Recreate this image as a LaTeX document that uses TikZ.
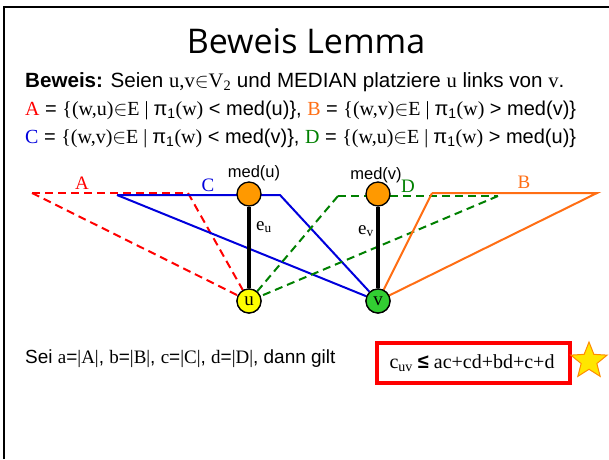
\documentclass[tikz,border=0pt]{standalone}
\usepackage{fontspec}
\setmainfont{Liberation Sans}
\newfontfamily\tms{Liberation Serif}
\newfontfamily\ttl{Open Sans}
\usetikzlibrary{shapes.geometric}
\definecolor{cred}{RGB}{255,0,0}
\definecolor{cblue}{RGB}{0,0,220}
\definecolor{cgreen}{RGB}{0,128,0}
\definecolor{corange}{RGB}{255,110,20}
\definecolor{nodeorange}{RGB}{255,153,0}
\definecolor{nodeyellow}{RGB}{255,255,0}
\definecolor{nodegreen}{RGB}{50,205,50}
\definecolor{staryellow}{RGB}{255,230,0}
\definecolor{starorange}{RGB}{255,140,0}
\tikzset{
  vert/.style={circle, draw=black, line width=1.3pt, minimum size=24pt, inner sep=0pt, font=\fontsize{19}{19}\selectfont\tms},
  txt/.style={anchor=base west, inner sep=0pt, font=\fontsize{20}{22}\selectfont},
  lbl/.style={inner sep=0pt, font=\fontsize{19}{19}\selectfont\tms},
  medlbl/.style={inner sep=0pt, font=\fontsize{16.5}{16.5}\selectfont},
  thickedge/.style={line width=3.5pt, black},
  cedge/.style={line width=2pt},
  dedge/.style={line width=2pt, dash pattern=on 8pt off 5pt},
}
\begin{document}
\begin{tikzpicture}[x=1pt,y=-1pt]
\useasboundingbox (0,0) rectangle (609,459);
% frame
\draw[line width=2.5pt] (4,459) -- (4,7) -- (609,7);
% title
\node[inner sep=0pt, font=\fontsize{34}{34}\selectfont\ttl] (title) at (306,41) {Beweis Lemma};
% text lines
\node[txt, font=\fontsize{20.6}{22}\selectfont] (l1) at (25,87) {\textbf{Beweis:} Seien {\tms u,v$\in$V\textsubscript{2}} und MEDIAN platziere {\tms u} links von {\tms v}.};
\node[txt] (l2) at (25,115) {{\tms\color{cred}A} = {\tms\{(w,u)$\in$E | }π\textsubscript{1}{\tms(w)} < med(u)\}, {\tms\color{corange}B} = {\tms\{(w,v)$\in$E | }π\textsubscript{1}{\tms(w)} > med(v)\}};
\node[txt] (l3) at (25,143) {{\tms\color{cblue}C} = {\tms\{(w,v)$\in$E | }π\textsubscript{1}{\tms(w)} < med(v)\}, {\tms\color{cgreen}D} = {\tms\{(w,u)$\in$E | }π\textsubscript{1}{\tms(w)} > med(u)\}};
% coordinates
\coordinate (a1) at (32,193);
\coordinate (a2) at (188,193);
\coordinate (c1) at (117,195);
\coordinate (c2) at (280,195);
\coordinate (d1) at (338,196);
\coordinate (d2) at (498,196);
\coordinate (b1) at (432,193);
\coordinate (b2) at (597,193);
% vertices (placed, drawn later)
\path (249,194) coordinate (pmu) (378,194) coordinate (pmv) (249,301) coordinate (pu) (378,301) coordinate (pv);
\node[vert, fill=nodeyellow] (u) at (pu) {u};
\node[vert, fill=nodegreen] (v) at (pv) {v};
% A red dashed
\draw[cred, dedge] (a1) -- (185,193);
\draw[cred, dedge] (a1) -- (u);
\draw[cred, dedge] (a2) -- (u);
% C blue
\draw[cblue, cedge] (c1) -- (c2) -- (v);
\draw[cblue, cedge] (c1) -- (v);
% D green dashed
\draw[cgreen, dedge] (d1) -- (d2);
\draw[cgreen, dedge] (d1) -- (u);
\draw[cgreen, dedge] (d2) -- (u);
% B orange
\draw[corange, cedge] (b1) -- (b2) -- (v);
\draw[corange, cedge] (b1) -- (v);
% med nodes
\node[vert, fill=nodeorange] (mu) at (pmu) {};
\node[vert, fill=nodeorange] (mv) at (pmv) {};
\draw[thickedge] (mu) -- (u);
\draw[thickedge] (mv) -- (v);
\node[vert, fill=nodeyellow] at (pu) {u};
\node[vert, fill=nodegreen] at (pv) {v};
% labels
\node[lbl, text=cred] (la) at (82,183) {A};
\node[lbl, text=cblue] (lc) at (208,185) {C};
\node[lbl, text=cgreen] (ld) at (408,186) {D};
\node[lbl, text=corange] (lb) at (524,182) {B};
\node[medlbl] (lmu) at (254,173) {med(u)};
\node[medlbl] (lmv) at (376,175) {med(v)};
\node[lbl] (eu) at (264,227) {e\textsubscript{u}};
\node[lbl] (ev) at (366,231) {e\textsubscript{v}};
% bottom line
\node[txt, font=\fontsize{19}{22}\selectfont] (l4) at (25,363) {Sei {\tms a}={\tms|A|}, {\tms b}={\tms|B|}, {\tms c}={\tms|C|}, {\tms d}={\tms|D|}, dann gilt};
\draw[cred, line width=3.5pt] (377,343) rectangle (570,383);
\node[lbl, font=\fontsize{20}{20}\selectfont\tms] (res) at (472,363) {c\textsubscript{uv} {\fontspec{Liberation Sans}\bfseries ≤} ac+cd+bd+c+d};
\node[star, star points=5, star point ratio=2.3, minimum size=38pt, inner sep=0pt, fill=staryellow, draw=starorange, line width=1pt] (star) at (589,361) {};
\end{tikzpicture}
\end{document}
